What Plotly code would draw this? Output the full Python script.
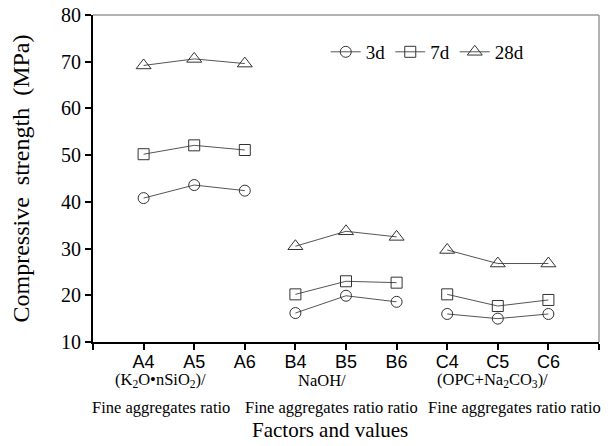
import plotly.graph_objects as go

categories = ["A4", "A5", "A6", "B4", "B5", "B6", "C4", "C5", "C6"]
groups = [[0, 1, 2], [3, 4, 5], [6, 7, 8]]
s3d = [40.8, 43.6, 42.4, 16.2, 19.9, 18.6, 16.0, 15.0, 16.0]
s7d = [50.2, 52.1, 51.1, 20.2, 23.0, 22.7, 20.2, 17.7, 19.0]
s28d = [69.2, 70.6, 69.6, 30.5, 33.7, 32.5, 29.7, 26.8, 26.8]
series = [("3d", s3d, "circle-open", 11), ("7d", s7d, "square-open", 11), ("28d", s28d, "triangle-up-open", 13)]
group_line1 = ["(K<sub>2</sub>O•nSiO<sub>2</sub>)/", "NaOH/", "(OPC+Na<sub>2</sub>CO<sub>3</sub>)/"]
group_line2 = ["Fine aggregates ratio", "Fine aggregates ratio ratio", "Fine aggregates ratio ratio"]

SERIF = "Liberation Serif, Times New Roman, serif"
SANS = "Liberation Sans, Arial, sans-serif"

L, R, T, B = 93, 12, 15, 104
W, H = 611, 446
PW = W - L - R

def px_to_paper(px):
    return (px - L) / PW

line1_px = [160, 322, 492]
line2_px = [161, 331, 514]

fig = go.Figure()
for name, vals, sym, sz in series:
    for gi, g in enumerate(groups):
        fig.add_trace(go.Scatter(
            x=[i + 1 for i in g], y=[vals[i] for i in g],
            mode="lines+markers", name=name, legendgroup=name,
            showlegend=(gi == 0),
            line=dict(color="#555555", width=1),
            marker=dict(symbol=sym, size=sz, color="#333333", line=dict(width=1, color="#333333")),
        ))

for gi in range(3):
    fig.add_annotation(x=px_to_paper(line1_px[gi]), y=0, xref="paper", yref="paper", yshift=-38,
                       xanchor="center", yanchor="middle", text=group_line1[gi], showarrow=False,
                       font=dict(family=SERIF, size=16.5, color="black"))
    fig.add_annotation(x=px_to_paper(line2_px[gi]), y=0, xref="paper", yref="paper", yshift=-65,
                       xanchor="center", yanchor="middle", text=group_line2[gi], showarrow=False,
                       font=dict(family=SERIF, size=16.5, color="black"))
fig.add_annotation(x=px_to_paper(330), y=0, xref="paper", yref="paper", yshift=-88,
                   xanchor="center", yanchor="middle", text="Factors and values", showarrow=False,
                   font=dict(family=SERIF, size=21, color="black"))
fig.add_annotation(x=0, y=0.5, xref="paper", yref="paper", xshift=-(L - 20),
                   xanchor="center", yanchor="middle", textangle=-90,
                   text="Compressive  strength  (MPa)", showarrow=False,
                   font=dict(family=SERIF, size=24, color="black"))

fig.update_layout(
    width=W, height=H,
    margin=dict(l=L, r=R, t=T, b=B, autoexpand=False),
    paper_bgcolor="white", plot_bgcolor="white",
    font=dict(family=SERIF, color="black"),
    showlegend=True,
    legend=dict(orientation="h", x=0.46, y=0.887, xanchor="left", yanchor="middle",
                font=dict(family=SERIF, size=19), bgcolor="rgba(0,0,0,0)",
                itemwidth=30, tracegroupgap=0),
    xaxis=dict(range=[0, 10], tickmode="array", tickvals=list(range(0, 11)),
               ticktext=[""] + categories + [""], automargin=False,
               tickfont=dict(family=SANS, size=18), ticks="outside", ticklen=6, tickwidth=1.5,
               ticklabelstandoff=-4,
               tickcolor="black", showgrid=False, zeroline=False,
               showline=True, linecolor="black", linewidth=2, mirror=False),
    yaxis=dict(range=[10, 80], tickmode="array", tickvals=list(range(10, 81, 10)),
               automargin=False,
               tickfont=dict(family=SERIF, size=20), ticks="outside", ticklen=6, tickwidth=1.5,
               tickcolor="black", showgrid=False, zeroline=False,
               showline=True, linecolor="black", linewidth=2),
)
# top & right frame
fig.add_shape(type="line", xref="paper", yref="paper", x0=0, x1=1, y0=1, y1=1, line=dict(color="#999999", width=1.5))
fig.add_shape(type="line", xref="paper", yref="paper", x0=1, x1=1, y0=0, y1=1, line=dict(color="#999999", width=1.5))

fig.write_html("out.html")
